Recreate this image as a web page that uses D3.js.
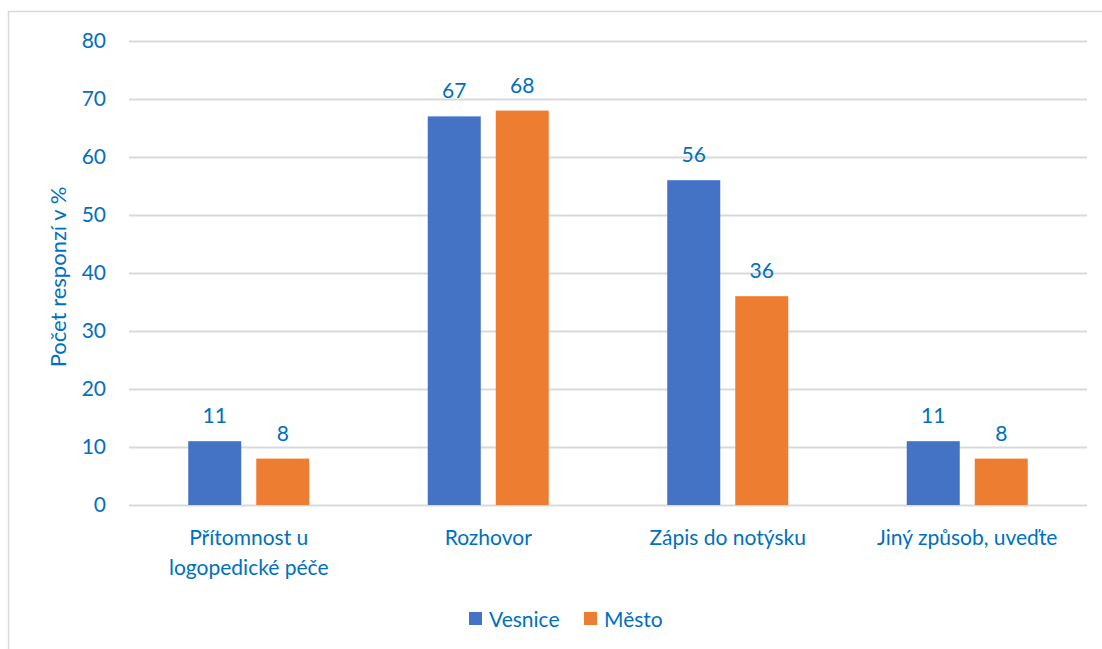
<!DOCTYPE html>
<html><head><meta charset="utf-8">
<script src="https://cdn.jsdelivr.net/npm/d3@7"></script>
<style>body{margin:0;background:#fff}text{font-family:Lato,"Open Sans",sans-serif}</style>
</head><body><svg id="c" width="1102" height="649"></svg>
<script>
const categories = [["Přítomnost u","logopedické péče"],["Rozhovor"],["Zápis do notýsku"],["Jiný způsob, uveďte"]];
const seriesNames = ["Vesnice","Město"];
const vesnice = [11,67,56,11];
const mesto = [8,68,36,8];
const yTicks = [0,10,20,30,40,50,60,70,80];
const colors = ["#4472C4","#ED7D31"];
const txt = "#0070C0";
const fs = 21;

const svg = d3.select("#c");
svg.append("rect").attr("x",8.5).attr("y",11.5).attr("width",1110).attr("height",660)
  .attr("fill","none").attr("stroke","#d9d9d9").attr("stroke-width",1.5);

const m = {l:129,r:1087,t:41,b:505};
const x0 = d3.scaleBand().domain(d3.range(categories.length)).range([m.l,m.r]);
const y = d3.scaleLinear().domain([0,80]).range([m.b,m.t]);

const yAxis = d3.axisLeft(y).tickValues(yTicks).tickSize(-(m.r-m.l));
const ga = svg.append("g").attr("transform",`translate(${m.l},0)`).call(yAxis);
ga.select(".domain").remove();
ga.selectAll(".tick line").attr("stroke","#d9d9d9").attr("stroke-width",2);
ga.selectAll(".tick text").attr("fill",txt).attr("font-size",fs).attr("x",-23);

const barW = 53, gap = 15;
const data = categories.map((c,i)=>[vesnice[i],mesto[i]]);
data.forEach((vals,i)=>{
  const cx = x0(i)+x0.bandwidth()/2;
  vals.forEach((v,j)=>{
    const bx = j===0 ? cx - gap/2 - barW : cx + gap/2;
    svg.append("rect").attr("x",bx).attr("y",y(v)).attr("width",barW).attr("height",y(0)-y(v))
      .attr("fill",colors[j]);
    svg.append("text").attr("x",bx+barW/2).attr("y",y(v)-18).attr("text-anchor","middle")
      .attr("fill",txt).attr("font-size",fs).text(v);
  });
  const t = svg.append("text").attr("text-anchor","middle").attr("fill",txt).attr("font-size",fs);
  categories[i].forEach((line,k)=>{
    t.append("tspan").attr("x",cx).attr("y",545+k*30).text(line);
  });
});

svg.append("text").attr("transform","translate(66,277) rotate(-90)").attr("text-anchor","middle")
  .attr("fill",txt).attr("font-size",22).text("Počet responzí v %");

const lg = svg.append("g");
const lx = [469,584];
seriesNames.forEach((n,i)=>{
  lg.append("rect").attr("x",lx[i]).attr("y",612).attr("width",13).attr("height",13).attr("fill",colors[i]);
  lg.append("text").attr("x",lx[i]+20).attr("y",627).attr("fill",txt).attr("font-size",fs).text(n);
});
</script></body></html>
